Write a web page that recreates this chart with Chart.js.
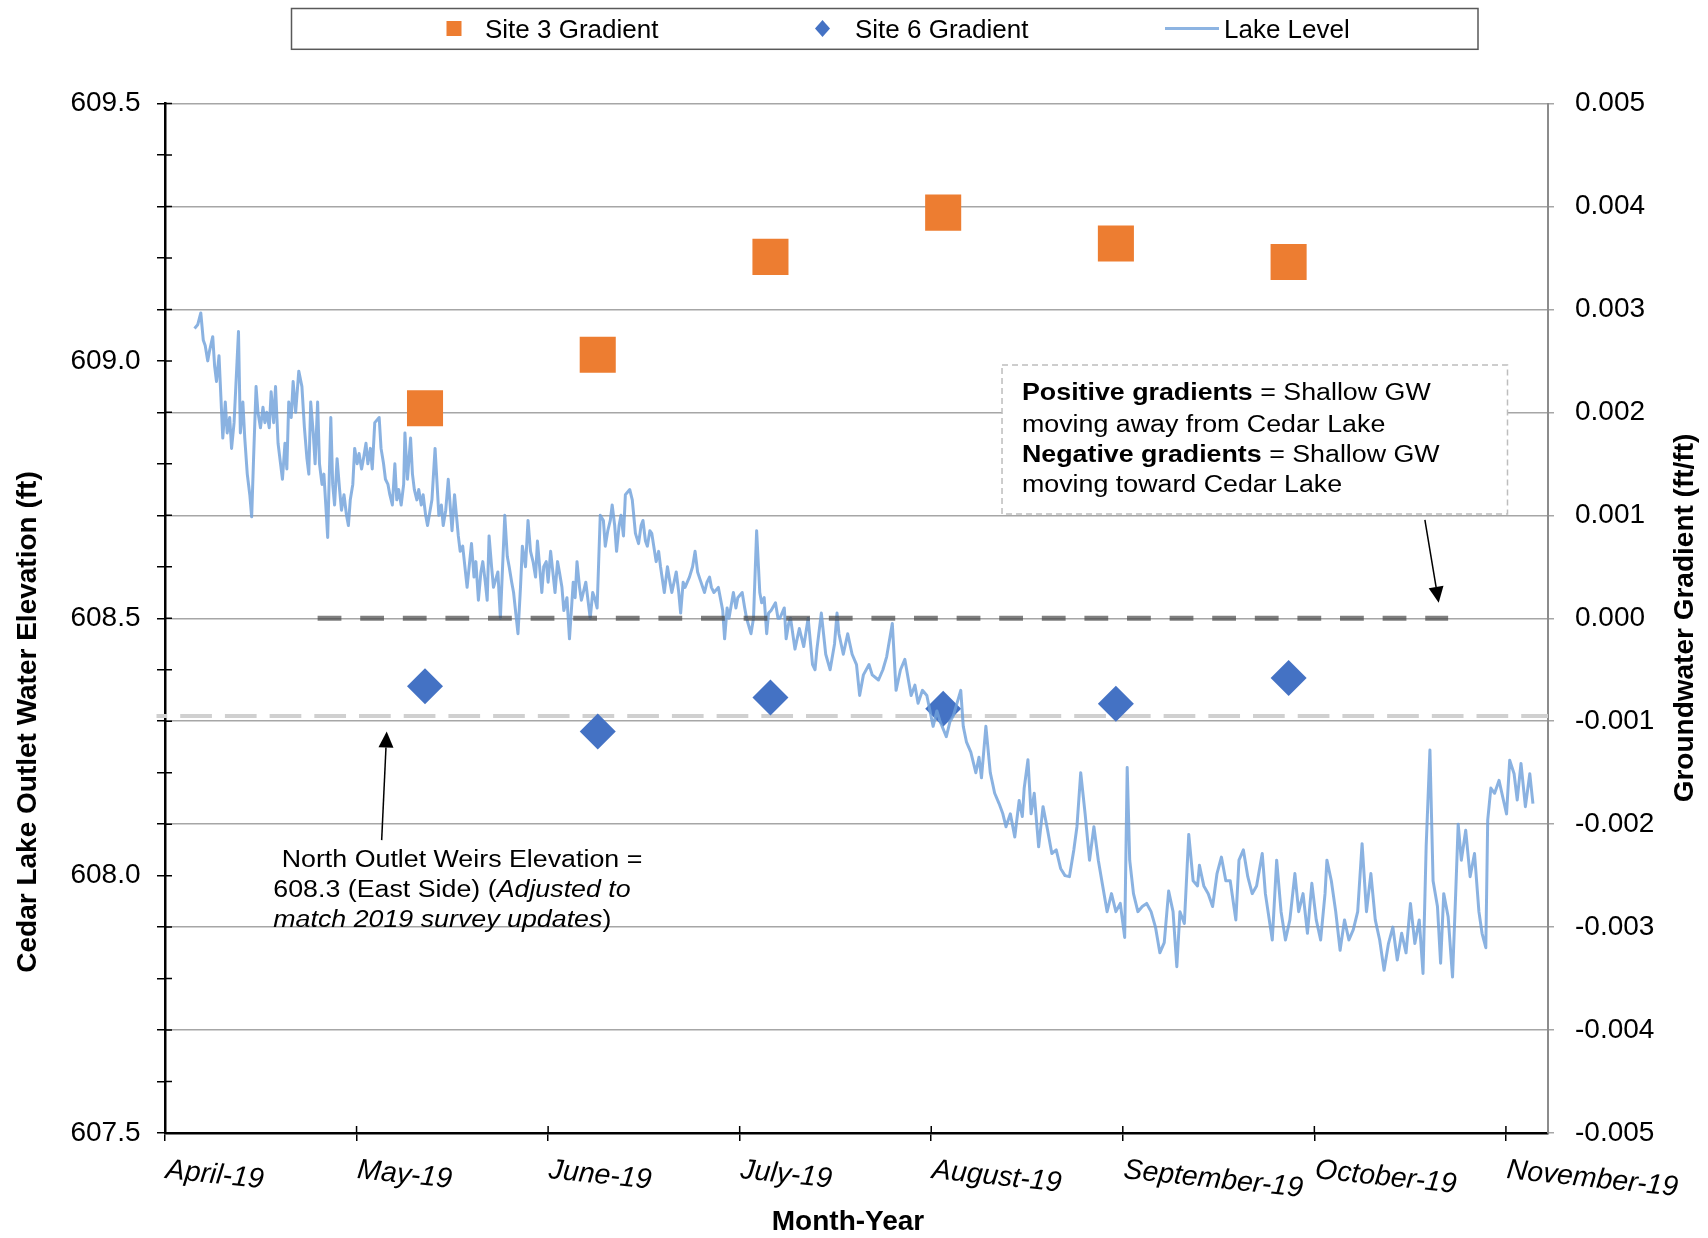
<!DOCTYPE html>
<html>
<head>
<meta charset="utf-8">
<script src="https://cdn.jsdelivr.net/npm/chart.js@4.4.1/dist/chart.umd.min.js"></script>
<style>
  html, body { margin: 0; padding: 0; background: #fff; }
  #wrap { width: 1708px; height: 1238px; position: relative; }
</style>
</head>
<body>
<div id="wrap"><canvas id="grafico"></canvas></div>
<script>
// eixo X em dias desde April-19 (cada mes = 30.5 dias no grafico)
const monthLabels = ['April-19', 'May-19', 'June-19', 'July-19', 'August-19', 'September-19', 'October-19', 'November-19'];

// gradientes (ft/ft) - eixo da direita
const gradientDays = [41.4, 68.9, 96.4, 123.9, 151.4, 178.9];
const site3Gradient = [0.00204, 0.00256, 0.00351, 0.00394, 0.00364, 0.00346];
const site6Gradient = [-0.00066, -0.00110, -0.00077, -0.00088, -0.00083, -0.00058];

// nivel do lago (ft)
const lakeDays = [
  4.7, 5.2, 5.7, 6.1, 6.4, 6.8, 7.1, 7.6, 7.9, 8.2,
  8.6, 8.9, 9.2, 9.6, 9.9, 10.3, 10.6, 11.0, 11.7, 12.0,
  12.4, 12.7, 13.1, 13.5, 13.8, 14.1, 14.5, 14.8, 15.2, 15.6,
  15.9, 16.2, 16.6, 16.9, 17.3, 17.6, 18.0, 18.4, 18.7, 19.1,
  19.4, 19.7, 20.1, 20.4, 20.8, 21.3, 21.8, 22.2, 22.6, 22.9,
  23.2, 23.6, 23.9, 24.3, 24.6, 25.0, 25.3, 25.7, 25.9, 26.4,
  26.7, 27.0, 27.4, 27.8, 28.1, 28.5, 28.9, 29.2, 29.5, 29.9,
  30.2, 30.6, 30.9, 31.3, 31.6, 32.0, 32.3, 32.7, 33.0, 33.4,
  34.1, 34.4, 34.8, 35.1, 35.5, 35.8, 36.2, 36.6, 36.9, 37.2,
  37.6, 38.0, 38.2, 38.6, 39.1, 39.4, 39.7, 40.1, 40.4, 40.8,
  41.1, 41.5, 41.8, 42.5, 43.0, 43.6, 44.0, 44.3, 44.7, 45.1,
  45.7, 46.1, 46.7, 47.0, 47.4, 48.1, 48.8, 49.2, 49.5, 49.9,
  50.3, 50.6, 51.0, 51.3, 51.6, 52.0, 52.3, 53.0, 53.4, 54.1,
  54.5, 54.8, 55.2, 55.5, 56.2, 56.6, 56.9, 57.4, 57.8, 58.2,
  58.6, 59.0, 59.3, 60.0, 60.3, 60.7, 61.0, 61.4, 62.1, 62.5,
  62.8, 63.2, 63.5, 64.0, 64.4, 65.0, 65.3, 65.6, 66.0, 66.3,
  67.0, 67.4, 67.7, 68.1, 68.4, 68.8, 69.3, 69.8, 70.1, 70.5,
  70.9, 71.2, 71.6, 71.9, 72.3, 72.6, 73.0, 73.3, 74.0, 74.4,
  74.9, 75.4, 75.8, 76.1, 76.5, 76.8, 77.2, 77.5, 78.2, 78.6,
  78.9, 79.5, 80.0, 80.4, 80.7, 81.4, 81.8, 82.1, 82.5, 82.8,
  83.5, 84.0, 84.4, 84.8, 85.2, 85.9, 86.3, 86.7, 87.0, 87.4,
  88.1, 88.8, 89.1, 89.5, 89.8, 90.5, 90.9, 91.2, 91.9, 92.3,
  92.6, 93.3, 93.7, 94.2, 94.7, 95.0, 95.4, 95.8, 96.1, 96.5,
  97.2, 97.6, 97.9, 98.6, 98.9, 99.3, 99.6, 100.3, 101.0, 101.7,
  102.4, 103.1, 103.5, 103.8, 104.5, 105.2, 105.9, 106.6, 107.0, 107.3,
  108.0, 108.7, 109.4, 110.1, 110.6, 111.2, 112.1, 112.6, 113.6, 114.3,
  114.9, 115.8, 116.4, 117.1, 117.8, 118.8, 119.4, 119.9, 120.6, 121.3,
  122.3, 122.9, 123.4, 124.4, 125.0, 125.5, 126.7, 127.1, 127.6, 128.3,
  129.1, 129.6, 130.0, 130.7, 131.4, 132.1, 132.8, 133.4, 133.9, 134.6,
  135.3, 136.0, 136.5, 136.8, 137.4, 137.9, 138.4, 139.1, 139.8, 140.5,
  141.2, 141.9, 142.6, 143.3, 144.0, 144.7, 145.2, 145.8, 146.5, 147.2,
  147.9, 148.6, 149.3, 150.0, 150.7, 151.4, 152.1, 152.8, 153.2, 153.6,
  154.2, 154.9, 155.6, 156.3, 157.0, 157.7, 158.4, 159.1, 159.8, 160.5,
  161.1, 161.6, 162.3, 163.0, 163.7, 164.4, 164.7, 165.4, 166.1, 166.8,
  167.5, 168.2, 168.9, 169.6, 170.5, 171.0, 171.7, 172.4, 173.1, 173.8,
  174.7, 175.2, 176.3, 177.0, 177.7, 178.4, 179.1, 179.9, 180.5, 181.2,
  181.9, 182.6, 183.3, 184.0, 184.7, 185.0, 185.7, 186.4, 187.1, 187.8,
  188.5, 189.2, 189.9, 190.6, 191.3, 192.0, 192.7, 193.4, 194.1, 194.8,
  195.5, 196.2, 196.9, 197.6, 198.3, 199.0, 199.7, 200.3, 200.8, 201.4,
  201.9, 202.6, 203.1, 203.6, 204.3, 205.0, 205.5, 205.9, 206.4, 207.1,
  207.8, 208.5, 209.2, 209.7, 210.3, 210.6, 211.1, 211.7, 212.4, 213.1,
  213.6, 214.1, 214.8, 215.3, 215.9, 216.6, 217.3, 217.8
];
const lakeLevel = [
  609.063, 609.07, 609.093, 609.04, 609.03, 609.00, 609.02, 609.047, 608.99, 608.96,
  609.01, 608.93, 608.85, 608.92, 608.86, 608.89, 608.83, 608.88, 609.057, 608.86,
  608.92, 608.85, 608.78, 608.74, 608.697, 608.81, 608.95, 608.90, 608.87, 608.91,
  608.88, 608.90, 608.87, 608.94, 608.88, 608.95, 608.84, 608.80, 608.77, 608.84,
  608.79, 608.92, 608.89, 608.96, 608.90, 608.98, 608.95, 608.87, 608.81, 608.78,
  608.92, 608.86, 608.80, 608.92, 608.80, 608.76, 608.78, 608.70, 608.657, 608.89,
  608.76, 608.72, 608.81, 608.75, 608.71, 608.74, 608.70, 608.68, 608.73, 608.76,
  608.83, 608.80, 608.82, 608.79, 608.81, 608.84, 608.80, 608.83, 608.79, 608.88,
  608.89, 608.83, 608.80, 608.77, 608.76, 608.74, 608.72, 608.80, 608.73, 608.75,
  608.72, 608.76, 608.86, 608.77, 608.85, 608.78, 608.75, 608.73, 608.75, 608.72,
  608.74, 608.70, 608.68, 608.73, 608.83, 608.70, 608.72, 608.68, 608.71, 608.77,
  608.67, 608.74, 608.66, 608.63, 608.64, 608.56, 608.645, 608.58, 608.61, 608.535,
  608.59, 608.61, 608.57, 608.535, 608.66, 608.60, 608.56, 608.59, 608.50, 608.70,
  608.62, 608.60, 608.57, 608.55, 608.47, 608.56, 608.64, 608.60, 608.69, 608.63,
  608.61, 608.58, 608.65, 608.55, 608.60, 608.61, 608.57, 608.63, 608.55, 608.61,
  608.59, 608.56, 608.515, 608.54, 608.46, 608.57, 608.54, 608.61, 608.56, 608.535,
  608.57, 608.53, 608.50, 608.55, 608.54, 608.52, 608.70, 608.69, 608.64, 608.67,
  608.69, 608.72, 608.68, 608.63, 608.68, 608.70, 608.66, 608.74, 608.75, 608.73,
  608.665, 608.645, 608.68, 608.69, 608.65, 608.64, 608.67, 608.665, 608.61, 608.63,
  608.60, 608.55, 608.60, 608.57, 608.55, 608.59, 608.55, 608.51, 608.57, 608.56,
  608.58, 608.60, 608.63, 608.59, 608.575, 608.55, 608.57, 608.58, 608.56, 608.55,
  608.56, 608.515, 608.46, 608.52, 608.50, 608.55, 608.52, 608.54, 608.55, 608.52,
  608.50, 608.47, 608.50, 608.67, 608.55, 608.53, 608.54, 608.47, 608.51, 608.515,
  608.53, 608.50, 608.50, 608.52, 608.46, 608.49, 608.50, 608.44, 608.48, 608.445,
  608.50, 608.41, 608.40, 608.44, 608.51, 608.43, 608.40, 608.45, 608.51, 608.47,
  608.43, 608.47, 608.43, 608.41, 608.35, 608.39, 608.41, 608.39, 608.38, 608.40,
  608.425, 608.49, 608.36, 608.40, 608.42, 608.35, 608.37, 608.335, 608.36, 608.35,
  608.29, 608.32, 608.30, 608.27, 608.30, 608.31, 608.36, 608.29, 608.26, 608.24,
  608.20, 608.23, 608.19, 608.29, 608.20, 608.16, 608.14, 608.12, 608.095, 608.12,
  608.075, 608.146, 608.115, 608.17, 608.225, 608.12, 608.16, 608.056, 608.134, 608.09,
  608.043, 608.05, 608.014, 608.00, 607.998, 608.05, 608.095, 608.20, 608.12, 608.03,
  608.095, 608.03, 607.98, 607.93, 607.965, 607.93, 607.946, 607.88, 608.21, 608.03,
  607.965, 607.93, 607.94, 607.946, 607.93, 607.90, 607.85, 607.87, 607.97, 607.93,
  607.823, 607.93, 607.907, 608.08, 607.99, 607.98, 608.02, 607.98, 607.965, 607.94,
  608.004, 608.036, 607.99, 607.99, 607.914, 608.03, 608.05, 607.998, 607.965, 607.98,
  608.043, 607.965, 607.875, 608.03, 607.93, 607.875, 607.914, 608.004, 607.93, 607.965,
  607.888, 607.985, 607.914, 607.875, 607.965, 608.03, 607.99, 607.93, 607.855, 607.914,
  607.875, 607.895, 607.93, 608.062, 607.93, 608.004, 607.914, 607.875, 607.816, 607.868,
  607.90, 607.836, 607.888, 607.85, 607.946, 607.868, 607.914, 607.81, 608.056, 608.244,
  607.99, 607.94, 607.83, 607.965, 607.92, 607.803, 607.965, 608.10, 608.03, 608.088,
  607.998, 608.043, 607.93, 607.888, 607.86, 608.108, 608.17, 608.16, 608.185, 608.147,
  608.12, 608.224, 608.198, 608.147, 608.218, 608.134, 608.198, 608.14
];

// linhas de referencia
const weirElevation = 608.31;      // North Outlet Weirs (ft)
const weirDays = [-1.35, 220.2];
const zeroGradient = 0;            // gradiente zero (ft/ft)
const zeroGradDays = [24.3, 204.3];

const FONT = '"Liberation Sans", Arial, sans-serif';
Chart.defaults.font.family = FONT;
Chart.defaults.color = '#000';

// texto com partes em negrito / italico
function texto(ctx, partes, x, y, size, sx) {
  ctx.save();
  ctx.translate(x, y);
  ctx.scale(sx, 1);
  ctx.textAlign = 'left';
  ctx.textBaseline = 'alphabetic';
  ctx.fillStyle = '#000';
  let cx = 0;
  for (const [t, st] of partes) {
    ctx.font = st + ' ' + size + 'px ' + FONT;
    ctx.fillText(t, cx, 0);
    cx += ctx.measureText(t).width;
  }
  ctx.restore();
}

function seta(ctx, x1, y1, x2, y2) {
  const a = Math.atan2(y2 - y1, x2 - x1);
  const L = 16, W = 7.5;
  const bx = x2 - L * Math.cos(a), by = y2 - L * Math.sin(a);
  ctx.save();
  ctx.strokeStyle = '#000';
  ctx.fillStyle = '#000';
  ctx.lineWidth = 1.5;
  ctx.beginPath();
  ctx.moveTo(x1, y1);
  ctx.lineTo(bx, by);
  ctx.stroke();
  ctx.beginPath();
  ctx.moveTo(x2, y2);
  ctx.lineTo(bx + W * Math.sin(a), by - W * Math.cos(a));
  ctx.lineTo(bx - W * Math.sin(a), by + W * Math.cos(a));
  ctx.closePath();
  ctx.fill();
  ctx.restore();
}

const extras = {
  id: 'extras',
  afterDraw(chart) {
    const ctx = chart.ctx;
    const {x, y} = chart.scales;
    const area = chart.chartArea;

    // marcas de escala cruzando o eixo (parte interna)
    ctx.save();
    ctx.strokeStyle = '#000';
    ctx.lineWidth = 1.5;
    ctx.beginPath();
    y.ticks.forEach(t => {
      const py = y.getPixelForValue(t.value);
      ctx.moveTo(area.left, py);
      ctx.lineTo(area.left + 7, py);
    });
    x.ticks.forEach(t => {
      const px = x.getPixelForValue(t.value);
      ctx.moveTo(px, area.bottom);
      ctx.lineTo(px, area.bottom - 7);
    });
    ctx.stroke();
    ctx.restore();

    // rotulos dos meses (inclinados)
    ctx.save();
    ctx.fillStyle = '#000';
    ctx.font = 'italic 28.5px ' + FONT;
    ctx.textAlign = 'left';
    ctx.textBaseline = 'alphabetic';
    x.ticks.forEach((t, i) => {
      const px = x.getPixelForValue(t.value);
      ctx.save();
      ctx.translate(px, area.bottom + 45);
      ctx.rotate(6 * Math.PI / 180);
      ctx.fillText(monthLabels[i], 0, 0);
      ctx.restore();
    });
    ctx.restore();

    // titulos dos eixos
    ctx.save();
    ctx.fillStyle = '#000';
    ctx.font = 'bold 28px ' + FONT;
    ctx.textAlign = 'center';
    ctx.textBaseline = 'middle';
    ctx.fillText('Month-Year', 848, 1222);
    ctx.save();
    ctx.translate(28, 722);
    ctx.rotate(-Math.PI / 2);
    ctx.fillText('Cedar Lake Outlet Water Elevation (ft)', 0, 0);
    ctx.restore();
    ctx.save();
    ctx.translate(1685, 618);
    ctx.rotate(-Math.PI / 2);
    ctx.fillText('Groundwater Gradient (ft/ft)', 0, 0);
    ctx.restore();
    ctx.restore();

    // caixa de texto dos gradientes
    const bx1 = x.getPixelForValue(133.27), bx2 = x.getPixelForValue(213.75);
    const by1 = y.getPixelForValue(608.992), by2 = y.getPixelForValue(608.7025);
    ctx.save();
    ctx.fillStyle = '#fff';
    ctx.fillRect(bx1, by1, bx2 - bx1, by2 - by1);
    ctx.strokeStyle = '#bdbdbd';
    ctx.lineWidth = 1.5;
    ctx.setLineDash([6, 4]);
    ctx.strokeRect(bx1, by1, bx2 - bx1, by2 - by1);
    ctx.restore();
    const tx = x.getPixelForValue(136.45);
    texto(ctx, [['Positive gradients', 'bold'], [' = Shallow GW', '']], tx, y.getPixelForValue(608.924), 23.5, 1.14);
    texto(ctx, [['moving away from Cedar Lake', '']], tx, y.getPixelForValue(608.862), 23.5, 1.14);
    texto(ctx, [['Negative gradients', 'bold'], [' = Shallow GW', '']], tx, y.getPixelForValue(608.804), 23.5, 1.14);
    texto(ctx, [['moving toward Cedar Lake', '']], tx, y.getPixelForValue(608.746), 23.5, 1.14);

    // texto do vertedouro
    texto(ctx, [['North Outlet Weirs Elevation =', '']], x.getPixelForValue(18.58), y.getPixelForValue(608.017), 23.5, 1.14);
    texto(ctx, [['608.3 (East Side) (', ''], ['Adjusted to', 'italic']], x.getPixelForValue(17.24), y.getPixelForValue(607.959), 23.5, 1.14);
    texto(ctx, [['match 2019 survey updates', 'italic'], [')', '']], x.getPixelForValue(17.24), y.getPixelForValue(607.901), 23.5, 1.14);

    // setas
    seta(ctx, x.getPixelForValue(200.6), y.getPixelForValue(608.691), x.getPixelForValue(202.8), y.getPixelForValue(608.530));
    seta(ctx, x.getPixelForValue(34.50), y.getPixelForValue(608.069), x.getPixelForValue(35.30), y.getPixelForValue(608.280));

    // legenda
    ctx.save();
    ctx.fillStyle = '#fff';
    ctx.fillRect(291.5, 8.5, 1186.5, 40.8);
    ctx.strokeStyle = '#595959';
    ctx.lineWidth = 1.5;
    ctx.strokeRect(291.5, 8.5, 1186.5, 40.8);
    ctx.fillStyle = '#ed7d31';
    ctx.fillRect(446.5, 21, 15, 15);
    ctx.fillStyle = '#4472c4';
    ctx.beginPath();
    ctx.moveTo(822.5, 20);
    ctx.lineTo(830, 28.5);
    ctx.lineTo(822.5, 37);
    ctx.lineTo(815, 28.5);
    ctx.closePath();
    ctx.fill();
    ctx.strokeStyle = '#8db4e2';
    ctx.lineWidth = 3;
    ctx.beginPath();
    ctx.moveTo(1165, 28.5);
    ctx.lineTo(1219, 28.5);
    ctx.stroke();
    ctx.fillStyle = '#000';
    ctx.font = '26px ' + FONT;
    ctx.textAlign = 'left';
    ctx.textBaseline = 'alphabetic';
    ctx.fillText('Site 3 Gradient', 485, 37.5);
    ctx.fillText('Site 6 Gradient', 855, 37.5);
    ctx.fillText('Lake Level', 1224, 37.5);
    ctx.restore();
  }
};

const ctx = document.getElementById('grafico').getContext('2d');

const dados = {
  datasets: [
    {
      label: 'zero',
      data: zeroGradDays.map(d => ({x: d, y: zeroGradient})),
      yAxisID: 'y1',
      showLine: true,
      borderColor: 'rgba(72,72,72,0.7)',
      borderWidth: 5,
      borderDash: [23.8, 18.8],
      borderCapStyle: 'butt',
      pointRadius: 0,
      order: 0
    },
    {
      label: 'Lake Level',
      data: lakeDays.map((d, i) => ({x: d, y: lakeLevel[i]})),
      yAxisID: 'y',
      showLine: true,
      borderColor: 'rgba(112,161,219,0.82)',
      borderWidth: 3,
      borderJoinStyle: 'round',
      pointRadius: 0,
      tension: 0,
      order: 1
    },
    {
      label: 'Site 3 Gradient',
      data: gradientDays.map((d, i) => ({x: d, y: site3Gradient[i]})),
      yAxisID: 'y1',
      pointStyle: 'rect',
      pointRadius: 25.5,
      backgroundColor: '#ed7d31',
      borderColor: '#ed7d31',
      borderWidth: 0,
      order: 2
    },
    {
      label: 'Site 6 Gradient',
      data: gradientDays.map((d, i) => ({x: d, y: site6Gradient[i]})),
      yAxisID: 'y1',
      pointStyle: 'rectRot',
      pointRadius: 18,
      backgroundColor: '#4472c4',
      borderColor: '#4472c4',
      borderWidth: 0,
      order: 2
    },
    {
      label: 'weir',
      data: weirDays.map(d => ({x: d, y: weirElevation})),
      yAxisID: 'y',
      showLine: true,
      borderColor: '#d0d0d0',
      borderWidth: 4,
      borderDash: [31.7, 13],
      borderDashOffset: 21,
      borderCapStyle: 'butt',
      pointRadius: 0,
      clip: false,
      order: 3
    }
  ]
};

const opcoes = {
  responsive: true,
  maintainAspectRatio: false,
  animation: false,
  events: [],
  layout: { padding: { top: 103.5, left: 0, right: 0, bottom: 0 } },
  plugins: {
    legend: { display: false },
    tooltip: { enabled: false }
  },
  scales: {
    x: {
      type: 'linear',
      min: 0,
      max: 220.2,
      afterBuildTicks: s => { s.ticks = monthLabels.map((m, i) => ({value: i * 30.5})); },
      afterFit: s => { s.height = 105; },
      ticks: { display: false },
      grid: { drawOnChartArea: false, drawTicks: true, tickLength: 8, color: '#000', lineWidth: 1.5 },
      border: { color: '#000', width: 2.5 }
    },
    y: {
      position: 'left',
      min: 607.5,
      max: 609.5,
      afterFit: s => { s.width = 165; },
      ticks: {
        stepSize: 0.1,
        padding: 16.5,
        font: { size: 28 },
        color: '#000',
        autoSkip: false,
        callback: v => (Math.abs(v * 2 - Math.round(v * 2)) < 1e-6 ? v.toFixed(1) : '')
      },
      grid: { drawOnChartArea: false, drawTicks: true, tickLength: 8, color: '#000', lineWidth: 1.5 },
      border: { color: '#000', width: 2.5 }
    },
    y1: {
      position: 'right',
      min: -0.005,
      max: 0.005,
      afterFit: s => { s.width = 160; },
      ticks: {
        stepSize: 0.001,
        padding: 21,
        font: { size: 28 },
        color: '#000',
        callback: v => (Math.abs(v) < 1e-9 ? '0.000' : v.toFixed(3))
      },
      grid: { drawOnChartArea: true, drawTicks: true, tickLength: 6, color: '#a6a6a6', lineWidth: 1.5 },
      border: { color: '#8c8c8c', width: 2 }
    }
  }
};

new Chart(ctx, {
  type: 'scatter',
  data: dados,
  options: opcoes,
  plugins: [extras]
});
</script>
</body>
</html>
